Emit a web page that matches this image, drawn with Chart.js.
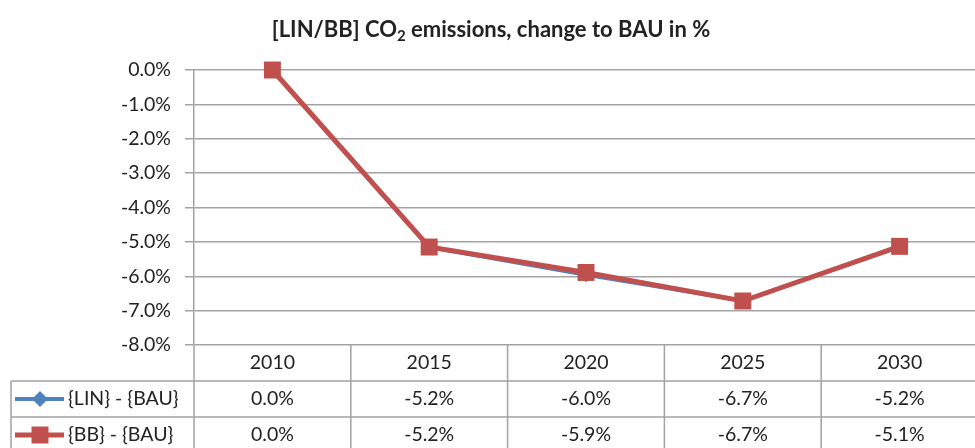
<!DOCTYPE html>
<html>
<head>
<meta charset="utf-8">
<script src="https://cdn.jsdelivr.net/npm/chart.js@4.4.1/dist/chart.umd.min.js"></script>
<style>
  html, body { margin: 0; padding: 0; background: #fff; overflow: hidden; width: 975px; height: 448px; }
  #wrap { width: 975px; height: 448px; overflow: hidden; position: relative; }
  #co2-chart { position: absolute; left: 0; top: 0; }
</style>
</head>
<body>
<div id="wrap"><canvas id="co2-chart" width="990" height="448"></canvas></div>
<script>
// [LIN/BB] CO2 emissions, change to BAU in %
const years = ['2010', '2015', '2020', '2025', '2030'];
const linBau = [0.0, -5.17, -5.97, -6.72, -5.16];
const bbBau = [0.0, -5.15, -5.89, -6.72, -5.13];
const linLabel = '{LIN} - {BAU}';
const bbLabel = '{BB} - {BAU}';
const yTicks = [0, -1, -2, -3, -4, -5, -6, -7, -8];

const blue = '#4F81BD';
const red = '#C0504D';
const grid = '#a3a3a3';
const fontName = 'Lato, "Open Sans", sans-serif';
const textSize = 19.5;

const ctx = document.getElementById('co2-chart');

// titre avec indice "2"
const titlePlugin = {
  id: 'titreCO2',
  afterDraw(chart) {
    const c = chart.ctx;
    const parts = [
      { t: '[LIN/BB] CO', size: 22, dy: 0 },
      { t: '2', size: 15, dy: 6 },
      { t: ' emissions, change to BAU in %', size: 22, dy: 0 }
    ];
    c.save();
    c.fillStyle = '#222';
    c.textBaseline = 'middle';
    c.textAlign = 'left';
    let total = 0;
    parts.forEach(p => {
      c.font = 'bold ' + p.size + 'px ' + fontName;
      p.w = c.measureText(p.t).width;
      total += p.w;
    });
    let x = 491 - total / 2;
    parts.forEach(p => {
      c.font = 'bold ' + p.size + 'px ' + fontName;
      c.fillText(p.t, x, 30 + p.dy);
      x += p.w;
    });
    c.restore();
  }
};

// tableau de données sous le graphique
const tablePlugin = {
  id: 'tableau',
  afterDraw(chart) {
    const c = chart.ctx;
    const xs = chart.scales.x;
    const area = chart.chartArea;
    const top = area.bottom;
    const rowH = 36;
    const r1 = top + rowH, r2 = top + rowH * 2, bottom = chart.height;
    const leftTable = 11;
    const n = years.length;
    const step = (xs.getPixelForValue(1) - xs.getPixelForValue(0));
    const edges = [];
    for (let i = 0; i <= n; i++) edges.push(xs.getPixelForValue(0) - step / 2 + i * step);

    c.save();
    c.strokeStyle = grid;
    c.lineWidth = 1.5;
    c.beginPath();
    edges.forEach(x => { c.moveTo(x, top); c.lineTo(x, bottom); });
    c.moveTo(leftTable, r1); c.lineTo(area.right, r1);
    c.moveTo(leftTable, r2); c.lineTo(area.right, r2);
    c.moveTo(leftTable, r1); c.lineTo(leftTable, bottom);
    c.stroke();

    c.fillStyle = '#222';
    c.font = textSize + 'px ' + fontName;
    c.textAlign = 'center';
    c.textBaseline = 'middle';
    years.forEach((y, i) => {
      const x = xs.getPixelForValue(i);
      c.fillText(y, x, top + rowH / 2);
      c.fillText(linBau[i].toFixed(1) + '%', x, r1 + rowH / 2);
      c.fillText(bbBau[i].toFixed(1) + '%', x, r2 + rowH / 2);
    });

    // clés de légende
    const keyRows = [
      { y: r1 + rowH / 2, color: blue, w: 4, style: 'rectRot', r: 8, label: linLabel },
      { y: r2 + rowH / 2, color: red, w: 5, style: 'rect', r: 12, label: bbLabel }
    ];
    keyRows.forEach(k => {
      c.strokeStyle = k.color;
      c.lineWidth = k.w;
      c.beginPath();
      c.moveTo(15, k.y); c.lineTo(64, k.y);
      c.stroke();
      c.fillStyle = k.color;
      Chart.helpers.drawPoint(c, { pointStyle: k.style, radius: k.r, borderWidth: 0 }, 40, k.y);
      c.fillStyle = '#222';
      c.textAlign = 'left';
      c.fillText(k.label, 68, k.y);
    });
    c.restore();
  }
};

new Chart(ctx, {
  type: 'line',
  data: {
    labels: years,
    datasets: [{
      label: linLabel,
      data: linBau,
      borderColor: blue,
      backgroundColor: blue,
      borderWidth: 3,
      pointStyle: 'rectRot',
      pointRadius: 7,
      pointBorderWidth: 0,
      order: 1,
      clip: false
    }, {
      label: bbLabel,
      data: bbBau,
      borderColor: red,
      backgroundColor: red,
      borderWidth: 5,
      pointStyle: 'rect',
      pointRadius: 12,
      pointBorderWidth: 0,
      order: 0,
      clip: false
    }]
  },
  options: {
    responsive: false,
    animation: false,
    layout: { padding: { top: 70, bottom: 103, left: 0, right: 0 } },
    plugins: {
      legend: { display: false },
      title: { display: false },
      tooltip: { enabled: false }
    },
    scales: {
      x: {
        display: false,
        offset: true
      },
      y: {
        min: -8,
        max: 0,
        afterFit(scale) { scale.width = 194; },
        afterBuildTicks(scale) { scale.ticks = yTicks.map(v => ({ value: v })); },
        ticks: {
          padding: 14,
          color: '#222',
          font: { family: fontName, size: textSize },
          callback: v => v.toFixed(1) + '%'
        },
        grid: { color: grid, lineWidth: 1.5, tickLength: 9 },
        border: { color: grid, width: 1.5 }
      }
    }
  },
  plugins: [titlePlugin, tablePlugin]
});
</script>
</body>
</html>
